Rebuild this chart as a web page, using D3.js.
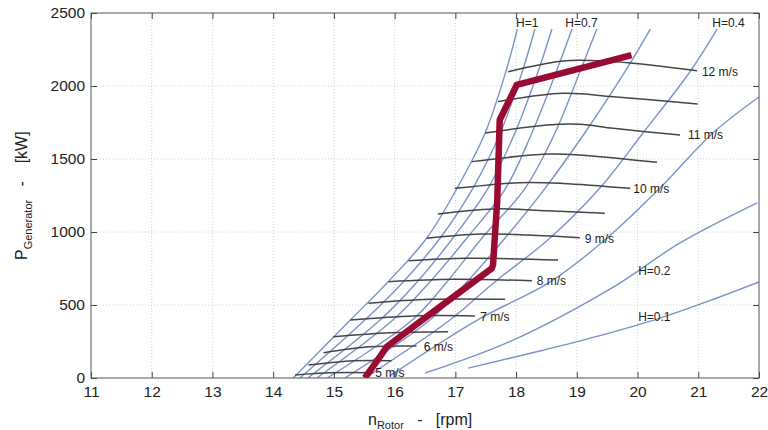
<!DOCTYPE html>
<html><head><meta charset="utf-8">
<script src="https://cdn.jsdelivr.net/npm/d3@7"></script>
<style>
html,body{margin:0;padding:0;background:#fff;}
svg text{font-family:"Liberation Sans",Arial,Helvetica,sans-serif;}
</style></head><body>
<svg id="chart" width="768" height="430"></svg>
<script>
// ---- data ----
const xTicks = [11,12,13,14,15,16,17,18,19,20,21,22];
const yTicks = [0,500,1000,1500,2000,2500];

const hNames = ["1","0.9","0.8","0.7","0.6","0.5","0.4","0.3","0.2","0.1"];
const hCurves = [
  [[14.33,0],[15.27,397],[15.89,658],[16.53,959],[17.03,1301],[17.49,1678],[17.83,2096],[18.02,2390]],
  [[14.44,0],[15.51,397],[16.14,658],[16.75,959],[17.29,1301],[17.74,1678],[18.10,2096],[18.31,2390]],
  [[14.57,0],[15.76,397],[16.37,658],[16.96,959],[17.54,1301],[17.98,1678],[18.36,2096],[18.59,2390]],
  [[14.72,0],[15.97,397],[16.58,658],[17.19,959],[17.83,1301],[18.26,1678],[18.66,2096],[18.92,2390]],
  [[14.89,0],[16.29,397],[16.86,658],[17.44,959],[18.15,1301],[18.64,1678],[19.05,2096],[19.33,2390]],
  [[15.18,0],[16.58,397],[17.19,658],[17.82,959],[18.48,1301],[19.13,1678],[19.79,2096],[20.21,2390]],
  [[15.51,0],[16.91,397],[17.65,658],[18.56,959],[19.38,1301],[20.09,1678],[20.86,2096],[21.31,2390]],
  [[15.92,14],[17.36,397],[18.56,658],[19.50,959],[20.37,1301],[21.24,1678],[22.0,1925]],
  [[16.50,34],[17.95,260],[19.60,623],[20.70,925],[21.97,1199]],
  [[17.21,68],[18.39,185],[19.38,290],[20.37,410],[21.19,530],[22.0,658]]
];

const windSpeeds = [5,5.5,6,6.5,7,7.5,8,8.5,9,9.5,10,10.5,11,11.5,12];
const windCurves = [
  [[14.36,21],[14.94,36],[15.65,36]],
  [[14.58,89],[15.32,118],[15.95,118]],
  [[14.83,173],[15.60,214],[16.36,219]],
  [[14.99,283],[15.92,310],[16.88,317]],
  [[15.27,397],[16.31,425],[17.32,425]],
  [[15.57,512],[16.58,539],[17.82,539]],
  [[15.90,660],[16.97,676],[18.26,666]],
  [[16.23,803],[17.19,820],[18.69,808]],
  [[16.53,957],[17.41,986],[18.20,980],[19.05,961]],
  [[16.71,1123],[17.62,1158],[18.50,1146],[19.46,1128]],
  [[16.99,1299],[18.06,1338],[18.77,1333],[19.88,1299]],
  [[17.27,1482],[18.51,1534],[19.05,1528],[20.32,1477]],
  [[17.49,1678],[18.51,1733],[19.05,1738],[19.60,1710],[20.70,1664]],
  [[17.70,1893],[18.77,1950],[19.60,1927],[20.99,1877]],
  [[17.87,2098],[18.77,2171],[19.33,2173],[19.88,2158],[20.98,2105]]
];

const windLabelText = ["5 m/s","6 m/s","7 m/s","8 m/s","9 m/s","10 m/s","11 m/s","12 m/s"];
const windLabelPos  = [[15.68,7],[16.48,185],[17.41,390],[18.34,637],[19.13,925],[19.93,1267],[20.83,1637],[21.06,2068]];

const hLabelText = ["H=1","H=0.7","H=0.4","H=0.2","H=0.1"];
const hLabelPos  = [[18.00,2404],[18.81,2404],[21.23,2404],[20.01,705],[20.01,390]];

const operatingCurve = [[15.51,0],[15.76,146],[15.87,214],[16.49,409],[17.60,751],[17.62,774],[17.69,1219],[17.73,1767],[18.01,2007],[19.90,2212]];

// ---- chart ----
const W = 768, H = 430;
const m = {top:13, right:9, bottom:52, left:91};
const svg = d3.select("#chart");
const x = d3.scaleLinear().domain([11,22]).range([m.left, W-m.right]);
const y = d3.scaleLinear().domain([0,2500]).range([H-m.bottom, m.top]);

svg.append("defs").append("clipPath").attr("id","clip")
  .append("rect").attr("x",m.left).attr("y",m.top)
  .attr("width",x(22)-x(11)).attr("height",y(0)-y(2500));

// grid
const grid = svg.append("g");
grid.selectAll(".gx").data(xTicks.slice(1,-1)).join("line")
  .attr("x1",d=>x(d)).attr("x2",d=>x(d)).attr("y1",y(0)).attr("y2",y(2500))
  .attr("stroke","#c4c4c4").attr("stroke-width",0.8).attr("stroke-dasharray","1,2");
grid.selectAll(".gy").data(yTicks.slice(1,-1)).join("line")
  .attr("y1",d=>y(d)).attr("y2",d=>y(d)).attr("x1",x(11)).attr("x2",x(22))
  .attr("stroke","#c4c4c4").attr("stroke-width",0.8).attr("stroke-dasharray","1,2");

const plot = svg.append("g").attr("clip-path","url(#clip)");
const line = d3.line().x(d=>x(d[0])).y(d=>y(d[1])).curve(d3.curveCatmullRom.alpha(0.5));

plot.selectAll(".h").data(hCurves).join("path")
  .attr("d",line).attr("fill","none").attr("stroke","#7b93c8").attr("stroke-width",1.4);

plot.selectAll(".w").data(windCurves).join("path")
  .attr("d",line).attr("fill","none").attr("stroke","#454545").attr("stroke-width",1.5);

plot.append("path").datum(operatingCurve)
  .attr("d",d3.line().x(d=>x(d[0])).y(d=>y(d[1])))
  .attr("fill","none").attr("stroke","#9a0b33").attr("stroke-width",6.5).attr("stroke-linejoin","round");

// labels
svg.selectAll(".wl").data(windLabelText).join("text")
  .attr("x",(d,i)=>x(windLabelPos[i][0])).attr("y",(d,i)=>y(windLabelPos[i][1]))
  .attr("font-size",12).attr("fill","#222").text(d=>d);
svg.selectAll(".hl").data(hLabelText).join("text")
  .attr("x",(d,i)=>x(hLabelPos[i][0])).attr("y",(d,i)=>y(hLabelPos[i][1]))
  .attr("font-size",12).attr("fill","#222").text(d=>d);

// axes
function styleAxis(g){ g.select(".domain").remove(); g.selectAll("line").attr("stroke","#444"); g.selectAll("text").attr("font-size",15.5).attr("fill","#222").attr("font-family","Liberation Sans, Arial, sans-serif"); }
svg.append("g").attr("transform",`translate(0,${y(0)})`)
  .call(d3.axisBottom(x).tickValues(xTicks).tickSize(-6).tickPadding(8).tickFormat(d3.format("d"))).call(styleAxis);
svg.append("g").attr("transform",`translate(${x(11)},0)`)
  .call(d3.axisLeft(y).tickValues(yTicks).tickSize(-6).tickPadding(6).tickFormat(d3.format("d"))).call(styleAxis);
svg.append("g").attr("transform",`translate(0,${y(2500)})`)
  .call(d3.axisTop(x).tickValues(xTicks).tickSize(-6).tickFormat("")).call(styleAxis);
svg.append("g").attr("transform",`translate(${x(22)},0)`)
  .call(d3.axisRight(y).tickValues(yTicks).tickSize(-6).tickFormat("")).call(styleAxis);

svg.append("rect").attr("x",x(11)).attr("y",y(2500)).attr("width",x(22)-x(11)).attr("height",y(0)-y(2500))
  .attr("fill","none").attr("stroke","#555").attr("stroke-width",1);

// titles
const xt = svg.append("text").attr("x",368).attr("y",425).attr("fill","#222").attr("font-size",16).style("white-space","pre");
xt.append("tspan").text("n");
xt.append("tspan").attr("font-size",11).attr("dy",4).text("Rotor");
xt.append("tspan").attr("dy",-4).text("   -   [rpm]");

const yt = svg.append("text").attr("transform","translate(27,260) rotate(-90)").attr("fill","#222").attr("font-size",16).style("white-space","pre");
yt.append("tspan").text("P");
yt.append("tspan").attr("font-size",11).attr("dy",5).text("Generator");
yt.append("tspan").attr("dy",-5).text("   -    [kW]");
</script>
</body></html>
